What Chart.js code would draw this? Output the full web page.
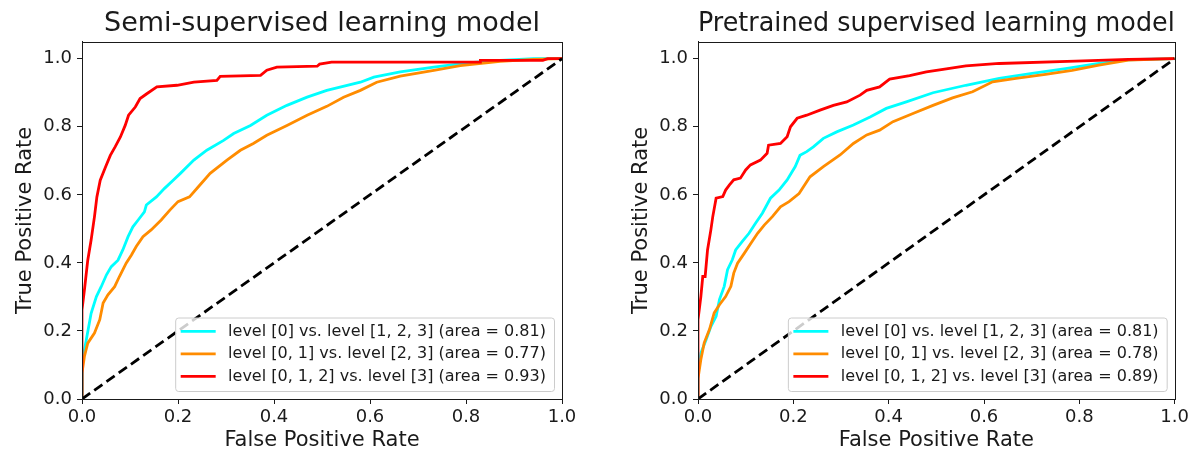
<!DOCTYPE html>
<html>
<head>
<meta charset="utf-8">
<script src="https://cdn.jsdelivr.net/npm/chart.js@4/dist/chart.umd.min.js"></script>
<style>
  html, body { margin: 0; padding: 0; background: #fff; overflow: hidden; }
  .panel { position: absolute; top: 0; height: 455px; }
</style>
</head>
<body>
<div class="panel" style="left:0;width:596px"><canvas id="semiChart" width="596" height="455"></canvas></div>
<div class="panel" style="left:596px;width:596px"><canvas id="pretrainedChart" width="596" height="455"></canvas></div>
<script>
const tickValues = [0, 0.2, 0.4, 0.6, 0.8, 1.0];
const lineColors = ["#00ffff", "#ff8c00", "#ff0000"];
const chanceFpr = [0, 1];
const chanceTpr = [0, 1];

// Semi-supervised learning model
const semiLabels = [
  "level [0] vs. level [1, 2, 3] (area = 0.81)",
  "level [0, 1] vs. level [2, 3] (area = 0.77)",
  "level [0, 1, 2] vs. level [3] (area = 0.93)",
];
const semiCyanFpr = [0, 0, 0.002, 0.009, 0.019, 0.030, 0.040, 0.051, 0.061, 0.075, 0.085, 0.096, 0.106, 0.117, 0.130, 0.134, 0.155, 0.172, 0.190, 0.205, 0.233, 0.260, 0.295, 0.316, 0.351, 0.385, 0.427, 0.469, 0.510, 0.580, 0.608, 0.663, 0.733, 0.802, 0.871, 0.941, 1];
const semiCyanTpr = [0, 0.10, 0.115, 0.174, 0.252, 0.301, 0.330, 0.365, 0.389, 0.408, 0.438, 0.477, 0.506, 0.526, 0.550, 0.570, 0.594, 0.619, 0.643, 0.663, 0.702, 0.731, 0.760, 0.780, 0.804, 0.834, 0.863, 0.887, 0.907, 0.931, 0.946, 0.961, 0.975, 0.988, 0.995, 1.0, 1];
const semiOrangeFpr = [0, 0, 0.005, 0.012, 0.026, 0.037, 0.044, 0.054, 0.068, 0.078, 0.092, 0.103, 0.113, 0.127, 0.144, 0.165, 0.183, 0.200, 0.224, 0.242, 0.267, 0.302, 0.330, 0.357, 0.385, 0.427, 0.469, 0.510, 0.545, 0.580, 0.614, 0.663, 0.733, 0.788, 0.871, 0.941, 1];
const semiOrangeTpr = [0, 0.076, 0.125, 0.164, 0.194, 0.233, 0.282, 0.306, 0.330, 0.360, 0.399, 0.423, 0.448, 0.477, 0.497, 0.526, 0.555, 0.580, 0.594, 0.623, 0.663, 0.702, 0.731, 0.751, 0.775, 0.804, 0.834, 0.860, 0.887, 0.907, 0.931, 0.949, 0.966, 0.980, 0.992, 0.998, 1];
const semiRedFpr = [0, 0, 0.005, 0.012, 0.019, 0.026, 0.031, 0.038, 0.049, 0.059, 0.069, 0.080, 0.090, 0.097, 0.111, 0.121, 0.135, 0.156, 0.198, 0.233, 0.281, 0.288, 0.372, 0.385, 0.406, 0.490, 0.495, 0.520, 0.830, 0.830, 0.960, 0.970, 1];
const semiRedTpr = [0, 0.262, 0.320, 0.408, 0.467, 0.536, 0.594, 0.643, 0.682, 0.716, 0.741, 0.770, 0.804, 0.834, 0.858, 0.883, 0.897, 0.917, 0.922, 0.931, 0.936, 0.948, 0.951, 0.966, 0.975, 0.978, 0.984, 0.990, 0.990, 0.995, 0.995, 1.0, 1];

// Pretrained supervised learning model
const pretrainedLabels = [
  "level [0] vs. level [1, 2, 3] (area = 0.81)",
  "level [0, 1] vs. level [2, 3] (area = 0.78)",
  "level [0, 1, 2] vs. level [3] (area = 0.89)",
];
const preCyanFpr = [0, 0, 0.006, 0.017, 0.027, 0.038, 0.045, 0.055, 0.062, 0.072, 0.079, 0.093, 0.107, 0.121, 0.135, 0.152, 0.170, 0.187, 0.204, 0.214, 0.228, 0.242, 0.263, 0.291, 0.326, 0.361, 0.395, 0.437, 0.493, 0.562, 0.632, 0.701, 0.771, 0.841, 0.903, 1];
const preCyanTpr = [0, 0.08, 0.135, 0.174, 0.213, 0.243, 0.292, 0.331, 0.380, 0.409, 0.438, 0.463, 0.487, 0.517, 0.546, 0.590, 0.614, 0.644, 0.683, 0.716, 0.727, 0.741, 0.766, 0.785, 0.805, 0.829, 0.854, 0.873, 0.900, 0.922, 0.942, 0.957, 0.971, 0.986, 0.997, 1];
const preOrangeFpr = [0, 0, 0.006, 0.013, 0.024, 0.034, 0.045, 0.058, 0.069, 0.075, 0.083, 0.097, 0.111, 0.125, 0.139, 0.156, 0.173, 0.191, 0.212, 0.235, 0.263, 0.298, 0.326, 0.354, 0.381, 0.409, 0.451, 0.493, 0.534, 0.576, 0.618, 0.667, 0.729, 0.785, 0.841, 0.903, 1];
const preOrangeTpr = [0, 0.06, 0.116, 0.165, 0.204, 0.253, 0.277, 0.301, 0.331, 0.370, 0.399, 0.428, 0.458, 0.487, 0.511, 0.536, 0.565, 0.580, 0.604, 0.653, 0.683, 0.717, 0.751, 0.776, 0.790, 0.815, 0.839, 0.863, 0.885, 0.903, 0.932, 0.942, 0.954, 0.966, 0.981, 0.996, 1];
const preRedFpr = [0, 0, 0.006, 0.010, 0.015, 0.020, 0.027, 0.031, 0.038, 0.052, 0.058, 0.066, 0.075, 0.089, 0.100, 0.110, 0.131, 0.145, 0.148, 0.173, 0.187, 0.194, 0.208, 0.228, 0.256, 0.284, 0.312, 0.340, 0.354, 0.381, 0.402, 0.444, 0.479, 0.514, 0.562, 0.632, 0.792, 0.903, 1];
const preRedTpr = [0, 0.233, 0.301, 0.360, 0.360, 0.438, 0.497, 0.536, 0.590, 0.595, 0.614, 0.629, 0.644, 0.649, 0.673, 0.688, 0.702, 0.722, 0.746, 0.751, 0.771, 0.800, 0.825, 0.834, 0.849, 0.863, 0.873, 0.893, 0.907, 0.917, 0.940, 0.950, 0.961, 0.969, 0.979, 0.986, 0.993, 0.998, 1];

const fontFamily = "'DejaVu Sans', sans-serif";
const textColor = "#1a1a1a";

function toPoints(xs, ys) {
  return xs.map((x, i) => ({ x: x, y: ys[i] }));
}

// frame around the plot area plus a matplotlib style legend in the lower right
const boxLegend = {
  id: "boxLegend",
  afterDraw(chart) {
    const ctx = chart.ctx;
    const area = chart.chartArea;
    ctx.save();
    ctx.strokeStyle = textColor;
    ctx.lineWidth = 1;
    ctx.strokeRect(Math.round(area.left) + 0.5, Math.round(area.top) + 0.5,
      Math.round(area.right - area.left), Math.round(area.bottom - area.top));

    const items = chart.data.datasets.filter((d) => d.label);
    ctx.font = "16px " + fontFamily;
    const textW = Math.max(...items.map((d) => ctx.measureText(d.label).width));
    const rowH = 22.5;
    const w = 52.4 + textW + 8.6;
    const h = items.length * rowH + 6;
    const x = area.right - 7.5 - w;
    const y = area.bottom - 7.5 - h;
    ctx.beginPath();
    ctx.roundRect(x, y, w, h, 3);
    ctx.fillStyle = "rgba(255,255,255,0.8)";
    ctx.fill();
    ctx.strokeStyle = "#cccccc";
    ctx.stroke();
    items.forEach((d, i) => {
      const cy = y + 13.4 + i * rowH;
      ctx.strokeStyle = d.borderColor;
      ctx.lineWidth = 2.8;
      ctx.beginPath();
      ctx.moveTo(x + 5, cy);
      ctx.lineTo(x + 40, cy);
      ctx.stroke();
      ctx.fillStyle = textColor;
      ctx.textBaseline = "middle";
      ctx.textAlign = "left";
      ctx.fillText(d.label, x + 52.4, cy);
    });
    ctx.restore();
  },
};

function axisOptions(min, max, titleText, isX) {
  return {
    type: "linear",
    min: min,
    max: max,
    afterBuildTicks: (scale) => {
      scale.ticks = tickValues.map((v) => ({ value: v }));
    },
    afterFit: (scale) => {
      if (isX) scale.height = 56;
      else scale.width = 82;
    },
    ticks: {
      autoSkip: false,
      maxRotation: 0,
      padding: isX ? 3 : 5,
      color: textColor,
      font: { family: fontFamily, size: 18 },
      callback: (v) => Number(v).toFixed(1),
    },
    grid: {
      drawOnChartArea: false,
      drawTicks: true,
      tickLength: 5,
      tickColor: textColor,
      lineWidth: 1,
    },
    border: { display: true, color: textColor, width: 1 },
    title: {
      display: true,
      text: titleText,
      color: textColor,
      font: { family: fontFamily, size: 21 },
      padding: isX ? { top: 0, bottom: 1.4 } : { top: 13, bottom: 0 },
    },
  };
}

function buildChart(canvasId, titleText, labels, curves, padLeft, padRight) {
  const datasets = curves.map((c, i) => ({
    label: labels[i],
    data: toPoints(c[0], c[1]),
    borderColor: lineColors[i],
    borderWidth: 2.8,
    showLine: true,
    pointRadius: 0,
    fill: false,
    order: 3 - i,
  }));
  datasets.push({
    label: "",
    data: toPoints(chanceFpr, chanceTpr),
    borderColor: "#000000",
    borderWidth: 2.8,
    borderDash: [10, 5],
    showLine: true,
    pointRadius: 0,
    fill: false,
    order: 0,
  });

  return new Chart(document.getElementById(canvasId).getContext("2d"), {
    type: "scatter",
    data: { datasets: datasets },
    options: {
      responsive: false,
      animation: false,
      devicePixelRatio: 1,
      layout: { padding: { left: padLeft, right: padRight, top: 0, bottom: 0 } },
      scales: {
        x: axisOptions(0, 1, "False Positive Rate", true),
        y: axisOptions(0, 1.05, "True Positive Rate", false),
      },
      plugins: {
        legend: { display: false },
        tooltip: { enabled: false },
        title: {
          display: true,
          text: titleText,
          fullSize: false,
          color: textColor,
          font: { family: fontFamily, size: 27, weight: "normal" },
          padding: { top: 7.5, bottom: 1.8 },
        },
      },
    },
    plugins: [boxLegend],
  });
}

buildChart("semiChart", "Semi-supervised learning model", semiLabels,
  [[semiCyanFpr, semiCyanTpr], [semiOrangeFpr, semiOrangeTpr], [semiRedFpr, semiRedTpr]], 0, 34);
buildChart("pretrainedChart", "Pretrained supervised learning model", pretrainedLabels,
  [[preCyanFpr, preCyanTpr], [preOrangeFpr, preOrangeTpr], [preRedFpr, preRedTpr]], 20, 16);
</script>
</body>
</html>
